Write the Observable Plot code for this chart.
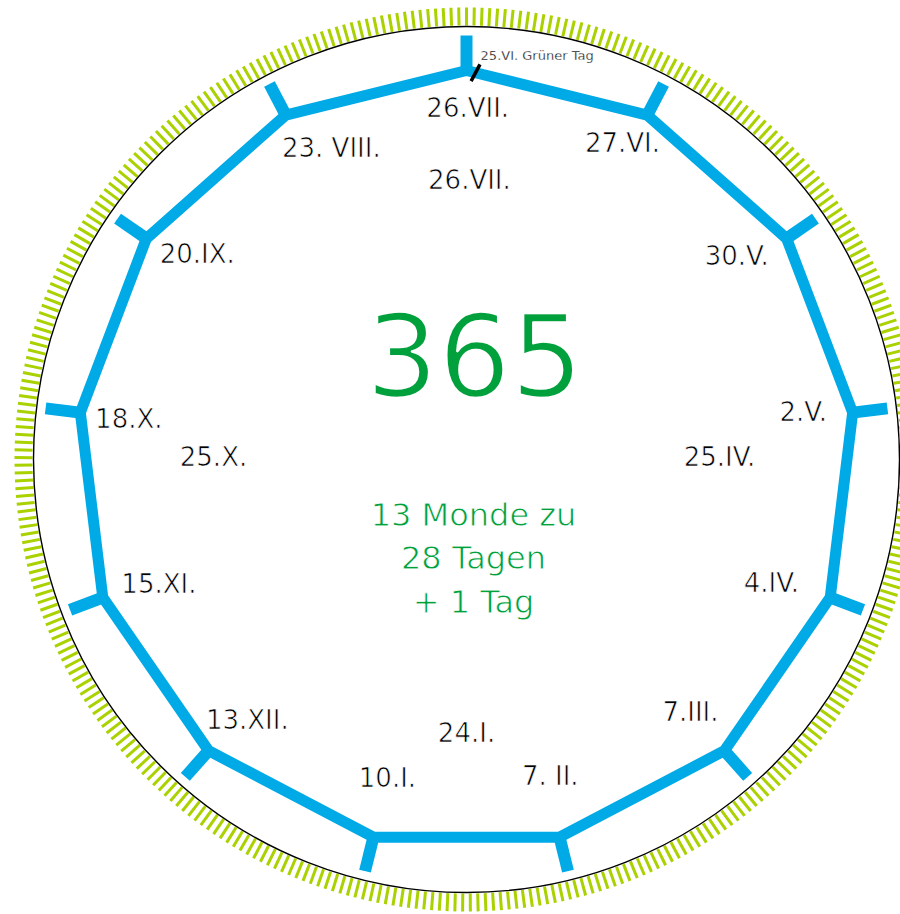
<!DOCTYPE html>
<html><head><meta charset="utf-8">
<script src="https://cdn.jsdelivr.net/npm/d3@7"></script>
<script src="https://cdn.jsdelivr.net/npm/@observablehq/plot@0.6"></script>
<style>html,body{margin:0;padding:0;background:#fff;overflow:hidden} svg{display:block}</style>
</head><body><div id="chart"></div>
<script>
// ---- data ----
const daysInYear = 365;
const monthCount = 13;
const vertexLabels = ["26.VII.","27.VI.","30.V.","2.V.","4.IV.","7.III.","7. II.","10.I.","13.XII.","15.XI.","18.X.","20.IX.","23. VIII."];
const vertexLabelAngles = [0.2, 26.3, 53.1, 82.1, 112.1, 138.5, 165.2, 193.9, 220.0, 247.9, 276.7, 307.2, 336.5];
const vertexLabelRadii = [351, 352, 338, 340, 329, 338, 328, 329, 341, 332, 340, 338, 339];
const quarterLabels = ["26.VII.","25.IV.","24.I.","25.X."];
const quarterAngles = [0.6, 89.5, 180.0, 270.5];
const quarterRadii = [279, 253, 274, 253];
const centerNumber = "365";
const centerLines = ["13 Monde zu","28 Tagen","+ 1 Tag"];
const greenDayLabel = "25.VI. Grüner Tag";
const greenDayEdgeFraction = 0.05;
const greenDayTilt = 28;

// ---- geometry helpers ----
const CX = 466, CY = 459, W = 900, H = 914;
const R_POLY = 389, R_TICK = 424, R_CIRCLE = 433, R_DAY0 = 434, R_DAY1 = 452;
const rad = d => d * Math.PI / 180;
const pt = (deg, r) => ({x: r * Math.sin(rad(deg)), y: r * Math.cos(rad(deg))});

const vertices = d3.range(monthCount).map(k => ({k, ...pt(k * 360 / monthCount, R_POLY)}));
const vertexTicks = d3.range(monthCount).map(k => {
  const a = pt(k * 360 / monthCount, R_POLY - 4), b = pt(k * 360 / monthCount, R_TICK);
  return {x1: a.x, y1: a.y, x2: b.x, y2: b.y};
});
const dayTicks = d3.range(daysInYear).map(i => {
  const a = pt(i * 360 / daysInYear, R_DAY0), b = pt(i * 360 / daysInYear, R_DAY1);
  return {x1: a.x, y1: a.y, x2: b.x, y2: b.y};
});
const labels = vertexLabels.map((t, i) => ({t, ...pt(vertexLabelAngles[i], vertexLabelRadii[i])}))
  .concat(quarterLabels.map((t, i) => ({t, ...pt(quarterAngles[i], quarterRadii[i])})));

// green day marker on edge between vertex 0 and 1
const v0 = vertices[0], v1 = vertices[1];
const mp = {x: v0.x + greenDayEdgeFraction * (v1.x - v0.x), y: v0.y + greenDayEdgeFraction * (v1.y - v0.y)};
const md = {x: Math.sin(rad(greenDayTilt)) * 9.5, y: Math.cos(rad(greenDayTilt)) * 9.5};
const marker = [{x1: mp.x - md.x, y1: mp.y - md.y, x2: mp.x + md.x, y2: mp.y + md.y}];
const greenLabelPos = pt(2.0, 404);

const centerTexts = centerLines.map((t, i) => ({t, x: 7, y: -56 - i * 43.5}));

const FONT = "'DejaVu Sans', sans-serif";
const GREEN = "#00a03c", BLUE = "#00aae7", LIME = "#a9d200";

const chart = Plot.plot({
  width: W, height: H,
  marginTop: 0, marginRight: 0, marginBottom: 0, marginLeft: 0,
  x: {domain: [-CX, W - CX], range: [0, W], axis: null},
  y: {domain: [CY, CY - H], range: [0, H], axis: null},
  marks: [
    Plot.link(dayTicks, {x1: "x1", y1: "y1", x2: "x2", y2: "y2", stroke: LIME, strokeWidth: 3}),
    Plot.dot([{x: 0, y: 0}], {x: "x", y: "y", r: R_CIRCLE, fill: "none", stroke: "black", strokeWidth: 1.4}),
    Plot.link(vertexTicks, {x1: "x1", y1: "y1", x2: "x2", y2: "y2", stroke: BLUE, strokeWidth: 12}),
    Plot.line(vertices, {x: "x", y: "y", curve: "linear-closed", stroke: BLUE, strokeWidth: 11, strokeLinejoin: "miter"}),
    Plot.link(marker, {x1: "x1", y1: "y1", x2: "x2", y2: "y2", stroke: "black", strokeWidth: 3.5}),
    Plot.text([greenDayLabel], {x: greenLabelPos.x, y: greenLabelPos.y, text: d => d, textAnchor: "start", lineAnchor: "middle", fontSize: 13, fontFamily: FONT, fill: "black", stroke: "white", strokeWidth: 0.3, paintOrder: "normal"}),
    Plot.text(labels, {x: "x", y: "y", text: "t", textAnchor: "middle", lineAnchor: "middle", fontSize: 26, fontFamily: FONT, fill: "black", stroke: "white", strokeWidth: 0.7, paintOrder: "normal"}),
    Plot.text([centerNumber], {x: 8, y: 100, text: d => d, textAnchor: "middle", lineAnchor: "middle", fontSize: 114, fontFamily: FONT, fill: GREEN, stroke: "white", strokeWidth: 2.5, paintOrder: "normal"}),
    Plot.text(centerTexts, {x: "x", y: "y", text: "t", textAnchor: "middle", lineAnchor: "middle", fontSize: 32, fontFamily: FONT, fill: GREEN, stroke: "white", strokeWidth: 0.8, paintOrder: "normal"})
  ]
});
document.getElementById("chart").append(chart);
</script>
</body></html>
